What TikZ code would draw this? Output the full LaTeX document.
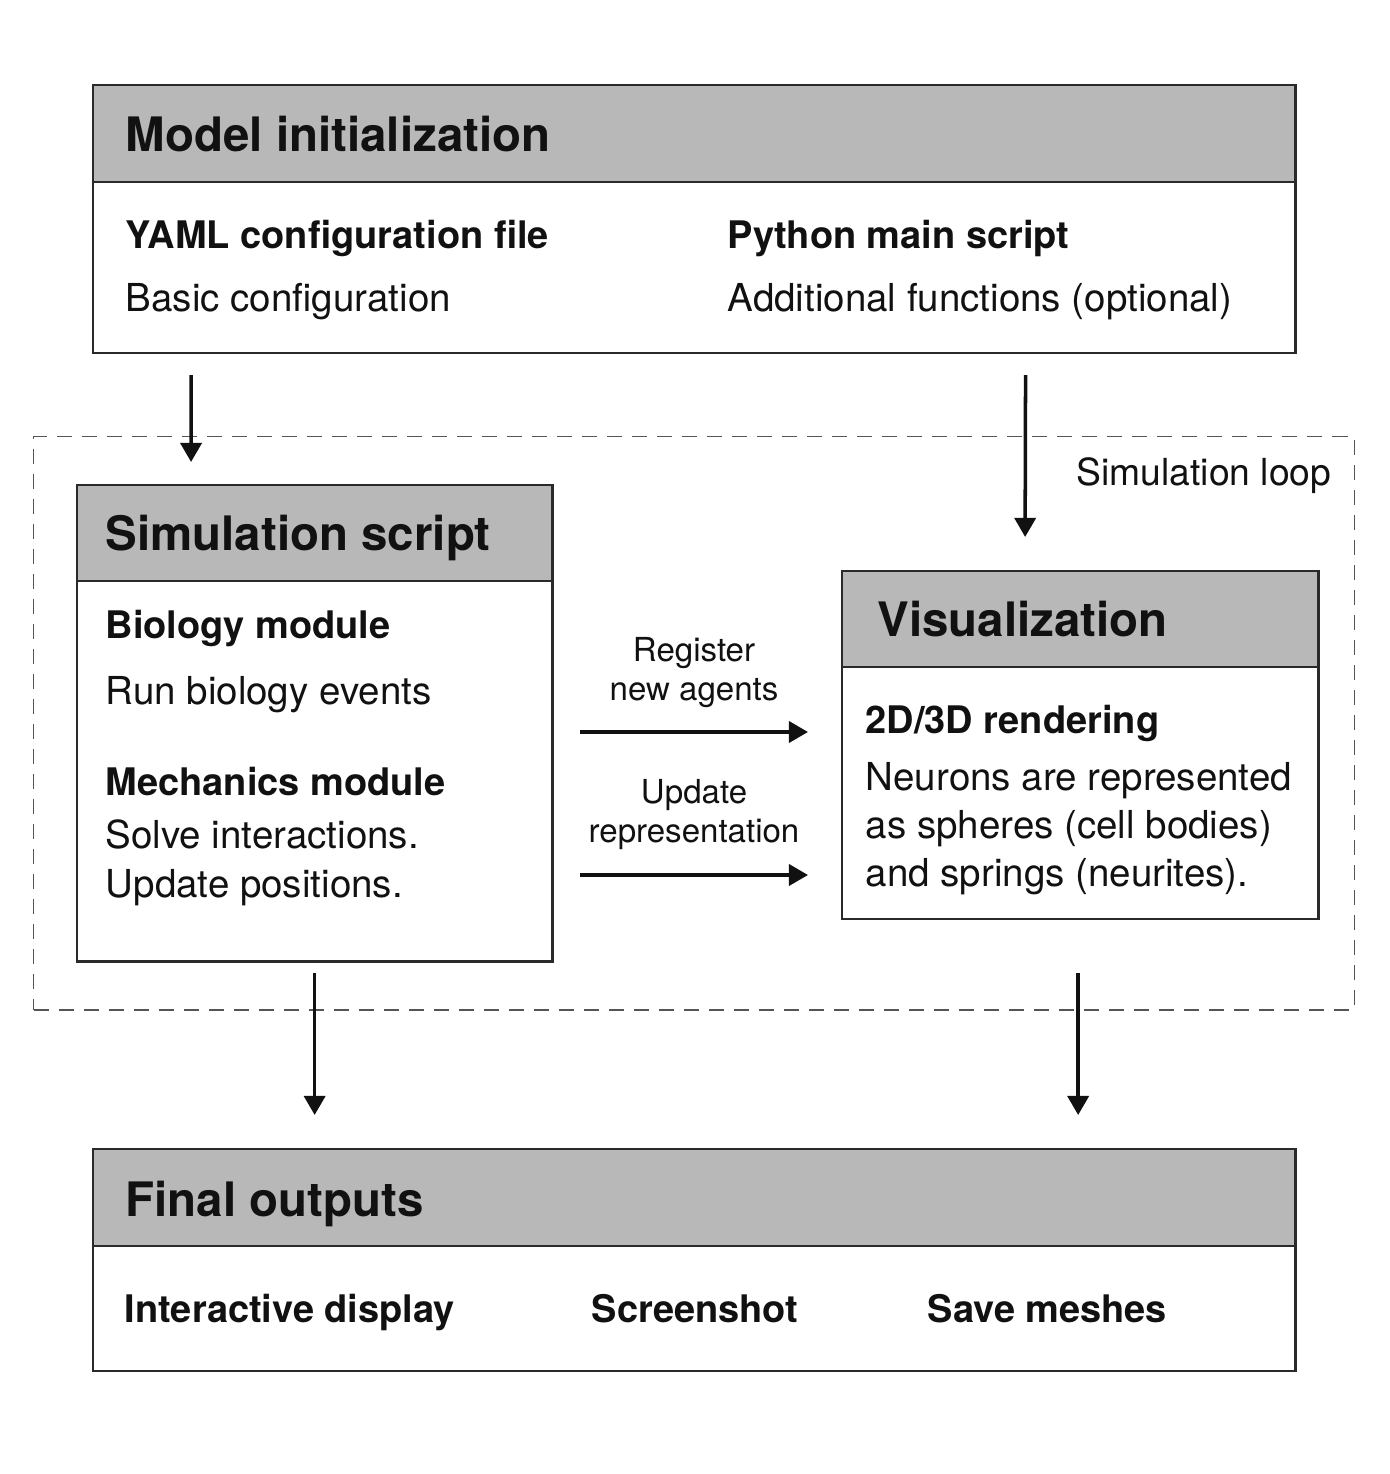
\documentclass[tikz,border=0pt]{standalone}
\usepackage{fontspec}
\setmainfont{TeX Gyre Heros}
\usetikzlibrary{arrows.meta,positioning}

\definecolor{headgray}{HTML}{B8B8B8}
\definecolor{boxline}{HTML}{2A2A2A}
\definecolor{loopline}{HTML}{555555}
\definecolor{ink}{HTML}{111111}

\tikzset{
  panel/.style={draw=boxline, line width=0.7pt, inner sep=0pt, outer sep=0pt, anchor=north west},
  headbar/.style={panel, fill=headgray},
  boxtitle/.style={font=\fontsize{13.5}{16}\selectfont\bfseries, text=ink, anchor=base west, inner sep=0pt},
  subhead/.style={font=\fontsize{10.8}{13}\selectfont\bfseries, text=ink, anchor=base west, inner sep=0pt},
  bodytext/.style={font=\fontsize{10.95}{13}\selectfont, text=ink, anchor=base west, inner sep=0pt},
  arrowtext/.style={font=\fontsize{9.4}{11.5}\selectfont, text=ink, anchor=base, inner sep=0pt},
  flow/.style={-{Triangle[length=0.19cm,width=0.21cm]}, line width=1pt, ink},
  loopframe/.style={draw=loopline, line width=0.4pt, dash pattern=on 0.15cm off 0.1cm, inner sep=0pt, anchor=north west}
}

\begin{document}
\begin{tikzpicture}[x=0.01cm,y=-0.01cm]

\useasboundingbox (0,0) rectangle (1389,1474);

% Dashed simulation loop frame:
\node[loopframe, minimum width=13.2cm, minimum height=5.73cm] (loopbox) at (33,436) {};
\node[font=\fontsize{10.6}{13}\selectfont, text=ink, anchor=base east, inner sep=0pt] (looplabel) at (1332,486) {Simulation loop};

% Model initialization:
\node[panel, minimum width=12.02cm, minimum height=2.68cm] (init) at (93,85) {};
\node[headbar, minimum width=12.02cm, minimum height=0.97cm] (inithead) at (init.north west) {};
\node[boxtitle] (inittitle) at (125,152) {Model initialization};
\node[subhead] (yaml) at (125,249) {YAML configuration file};
\node[bodytext] (yamltext) at (125,312) {Basic configuration};
\node[subhead] (pymain) at (727,249) {Python main script};
\node[bodytext] (pytext) at (727,312) {Additional functions (optional)};

% Simulation script:
\node[panel, minimum width=4.75cm, minimum height=4.76cm] (sim) at (77,485) {};
\node[headbar, minimum width=4.75cm, minimum height=0.96cm] (simhead) at (sim.north west) {};
\node[boxtitle] (simtitle) at (105,551) {Simulation script};
\node[subhead] (bio) at (105,639) {Biology module};
\node[bodytext] (biotext) at (105,705) {Run biology events};
\node[subhead] (mech) at (105,795) {Mechanics module};
\node[bodytext] (mechtexta) at (105,848) {Solve interactions.};
\node[bodytext] (mechtextb) at (105,897) {Update positions.};

% Visualization:
\node[panel, minimum width=4.76cm, minimum height=3.48cm] (vis) at (842,571) {};
\node[headbar, minimum width=4.76cm, minimum height=0.96cm] (vishead) at (vis.north west) {};
\node[boxtitle] (vistitle) at (877,637) {Visualization};
\node[subhead] (render) at (865,733) {2D/3D rendering};
\node[bodytext] (rendera) at (865,790) {Neurons are represented};
\node[bodytext] (renderb) at (865,838) {as spheres (cell bodies)};
\node[bodytext] (renderc) at (865,886) {and springs (neurites).};

% Final outputs:
\node[panel, minimum width=12.02cm, minimum height=2.22cm] (final) at (93,1149) {};
\node[headbar, minimum width=12.02cm, minimum height=0.97cm] (finalhead) at (final.north west) {};
\node[boxtitle] (finaltitle) at (125,1216) {Final outputs};
\node[subhead] (interactive) at (124,1322) {Interactive display};
\node[subhead] (shot) at (591,1322) {Screenshot};
\node[subhead] (meshes) at (927,1322) {Save meshes};

% Arrow labels:
\node[arrowtext] (registera) at (694,662) {Register};
\node[arrowtext] (registerb) at (694,701) {new agents};
\node[arrowtext] (updatea) at (694,803) {Update};
\node[arrowtext] (updateb) at (694,842) {representation};

% Arrow end points:
\coordinate (yamlout) at ([xshift=0.98cm,yshift=-0.22cm]init.south west);
\coordinate (simin) at ([xshift=1.14cm,yshift=0.23cm]sim.north west);
\coordinate (pyout) at ([xshift=9.32cm,yshift=-0.22cm]init.south west);
\coordinate (visin) at ([xshift=1.83cm,yshift=0.34cm]vis.north west);
\coordinate (regout) at ([xshift=0.28cm]sim.east |- 0,732);
\coordinate (regin) at ([xshift=-0.34cm]vis.west |- 0,732);
\coordinate (updout) at ([xshift=0.28cm]sim.east |- 0,875);
\coordinate (updin) at ([xshift=-0.34cm]vis.west |- 0,875);
\coordinate (simout) at ([yshift=-0.12cm]sim.south);
\coordinate (finalina) at (final.north -| simout);
\coordinate (visout) at ([xshift=-0.02cm,yshift=-0.54cm]vis.south);
\coordinate (finalinb) at (final.north -| visout);

% Arrows:
\draw[flow] (yamlout) -- (simin);
\draw[flow] (pyout) -- (visin);
\draw[flow] (regout) -- (regin);
\draw[flow] (updout) -- (updin);
\draw[flow, shorten >=0.34cm] (simout) -- (finalina);
\draw[flow, shorten >=0.34cm] (visout) -- (finalinb);

\end{tikzpicture}
\end{document}
